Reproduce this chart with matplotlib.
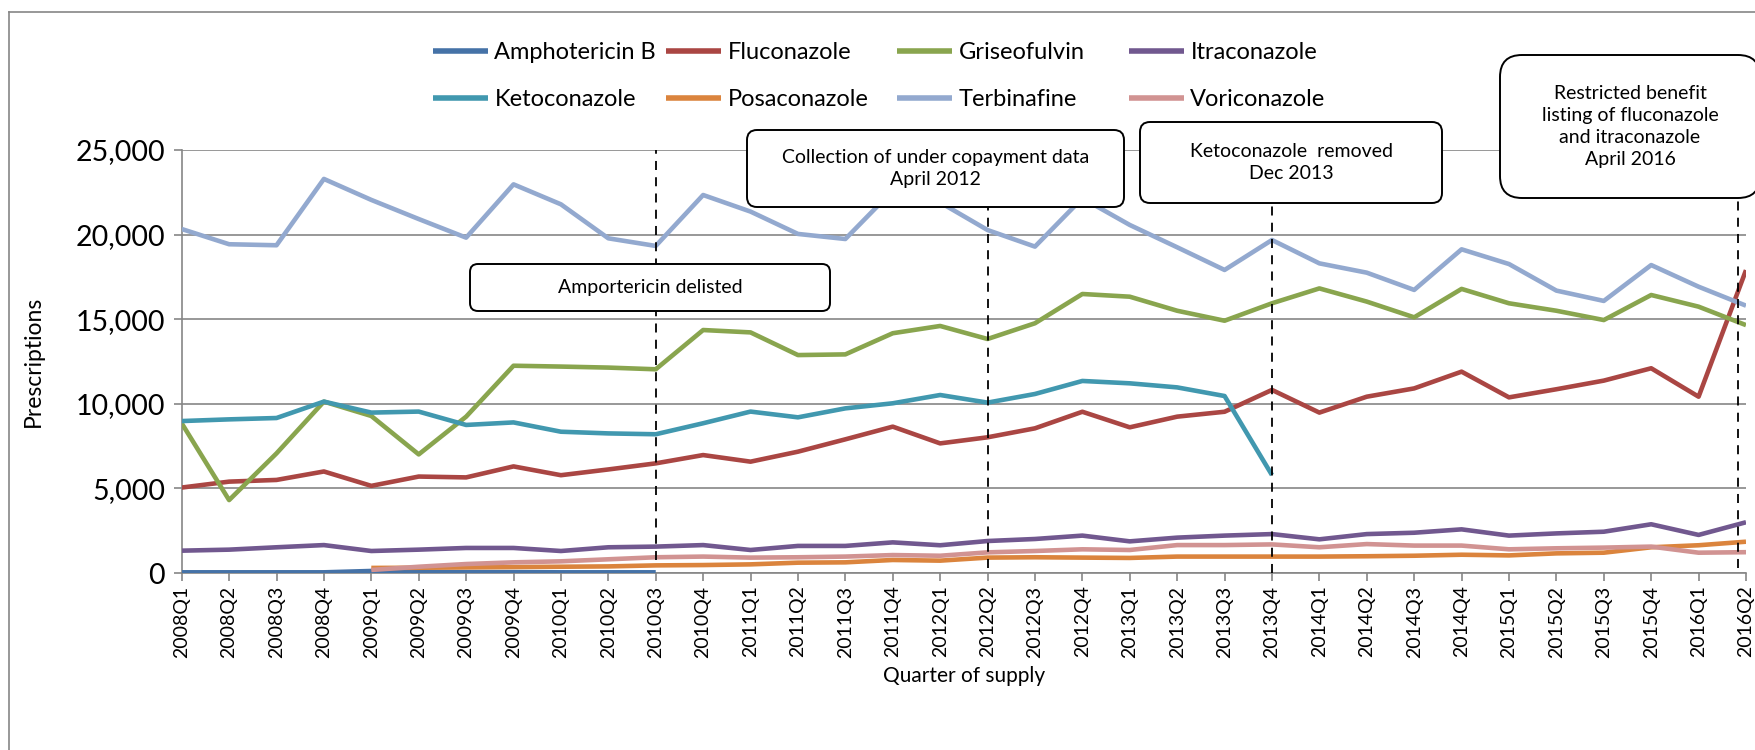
import matplotlib.pyplot as plt
import numpy as np
from matplotlib.patches import FancyBboxPatch
from matplotlib.lines import Line2D
from matplotlib.transforms import IdentityTransform

plt.rcParams['font.family'] = ['Lato', 'DejaVu Sans']

# --- dados ---
trimestres = [f"{ano}Q{q}" for ano in range(2008, 2017) for q in range(1, 5)][:34]

amphotericin = [40, 40, 40, 40, 120, 60, 50, 50, 40, 40, 40] + [None] * 23
fluconazole = [5050, 5400, 5500, 6000, 5150, 5700, 5650, 6300, 5780, 6120, 6480,
               6970, 6580, 7170, 7900, 8650, 7660, 8020, 8550, 9530, 8610, 9240,
               9530, 10820, 9480, 10420, 10910, 11900, 10380, 10860, 11370, 12100, 10420, 17900]
griseofulvin = [8850, 4310, 7070, 10130, 9280, 7010, 9240, 12250, 12200, 12140, 12040,
                14360, 14220, 12880, 12920, 14170, 14600, 13830, 14760, 16490, 16330, 15500,
                14910, 15940, 16820, 16040, 15110, 16790, 15940, 15500, 14950, 16430, 15740, 14650]
itraconazole = [1320, 1380, 1520, 1650, 1300, 1380, 1480, 1480, 1300, 1520, 1560,
                1650, 1360, 1600, 1600, 1810, 1640, 1890, 2010, 2210, 1870, 2090,
                2210, 2300, 1990, 2300, 2380, 2580, 2210, 2340, 2440, 2880, 2250, 3000]
ketoconazole = [8980, 9080, 9160, 10130, 9480, 9540, 8750, 8900, 8350, 8250, 8200,
                8850, 9540, 9200, 9730, 10030, 10520, 10070, 10580, 11350, 11210, 10970,
                10460, 5790] + [None] * 10
posaconazole = [None] * 4 + [300, 310, 330, 350, 370, 390, 450,
                470, 510, 610, 630, 770, 730, 910, 930, 910, 890, 970,
                970, 970, 970, 990, 1020, 1080, 1040, 1160, 1200, 1520, 1640, 1850]
terbinafine = [20330, 19430, 19370, 23290, 22050, 20920, 19820, 22970, 21790, 19780, 19330,
               22340, 21360, 20040, 19740, 22600, 21900, 20270, 19290, 22150, 20570, 19250,
               17910, 19680, 18300, 17750, 16730, 19130, 18260, 16690, 16080, 18200, 16920, 15800]
voriconazole = [None] * 4 + [180, 370, 530, 630, 690, 810, 930,
                970, 910, 930, 970, 1060, 1020, 1220, 1300, 1400, 1360, 1650,
                1650, 1690, 1520, 1710, 1620, 1620, 1400, 1460, 1500, 1560, 1200, 1230]

nomes = ['Amphotericin B', 'Fluconazole', 'Griseofulvin', 'Itraconazole',
         'Ketoconazole', 'Posaconazole', 'Terbinafine', 'Voriconazole']
series = [amphotericin, fluconazole, griseofulvin, itraconazole,
          ketoconazole, posaconazole, terbinafine, voriconazole]
cores = ['#4572A7', '#AA4643', '#89A54E', '#71588F',
         '#4198AF', '#DB843D', '#93A9CF', '#D19392']

# eventos: posição no eixo x (índice do trimestre), faixa vertical do tracejado
eventos_x = [10, 17, 23, 32.83]
eventos_y = [(768, 25000), (295, 21630), (0, 21870), (295, 22160)]

# --- figura ---
fig = plt.figure(figsize=(17.55, 7.5), dpi=100)
ax = fig.add_axes([181.7 / 1755, 1 - 573 / 750, (1746 - 181.7) / 1755, 423 / 750])

x = np.arange(len(trimestres))
linhas = []
for nome, valores, cor in zip(nomes, series, cores):
    y = np.array(valores, dtype=float)
    ln, = ax.plot(x, y, color=cor, linewidth=3.3, label=nome,
                  solid_joinstyle='round', solid_capstyle='butt', zorder=3)
    linhas.append(ln)

for ex, (y0, y1) in zip(eventos_x, eventos_y):
    ax.plot([ex, ex], [y0, y1], color='black', linewidth=1.3,
            dashes=(5, 4), zorder=4, clip_on=False)

ax.set_xlim(0, 33)
ax.set_ylim(0, 25000)
ax.set_yticks(np.arange(0, 25001, 5000))
ax.set_yticklabels([f"{v:,}" for v in range(0, 25001, 5000)], fontsize=20.5)
ax.set_xticks(x)
ax.set_xticklabels(trimestres, rotation=90, fontsize=14)
ax.grid(axis='y', color='#868686', linewidth=1.2, zorder=0)
ax.set_axisbelow(True)
for lado in ['top', 'right']:
    ax.spines[lado].set_visible(False)
for lado in ['left', 'bottom']:
    ax.spines[lado].set_color('#868686')
    ax.spines[lado].set_linewidth(1.2)
ax.tick_params(axis='both', colors='#868686', length=6, width=1.2, labelcolor='black')
ax.tick_params(axis='y', pad=6)
ax.tick_params(axis='x', pad=3)

ax.set_ylabel('Prescriptions', fontsize=16.5)
ax.yaxis.set_label_coords(-0.088, 0.5)
ax.set_xlabel('Quarter of supply', fontsize=15)
ax.xaxis.label.set_va('center')
ax.xaxis.set_label_coords(0.5, -0.243)

# --- legenda: uma coluna por legenda, larguras iguais como no original ---
colunas_x = [433, 666, 897, 1129]
for c, xc in enumerate(colunas_x):
    idx = [c, c + 4]
    leg = fig.legend([linhas[i] for i in idx], [nomes[i] for i in idx],
                     loc='center left', bbox_to_anchor=(xc / 1755, 1 - 76 / 750),
                     frameon=False, fontsize=17, handlelength=2.35, handletextpad=0.25,
                     labelspacing=1.1, borderpad=0, borderaxespad=0)
    for h in leg.legend_handles:
        h.set_linewidth(4)

# --- caixas de anotação (pixels, origem em baixo) ---
ident = IdentityTransform()
caixas = [
    (470, 264, 830, 311, 'Amportericin delisted', 8),
    (747, 130, 1124, 207, 'Collection of under copayment data\nApril 2012', 10),
    (1140, 122, 1442, 203, 'Ketoconazole  removed\nDec 2013', 10),
    (1500, 55, 1760, 198, 'Restricted benefit\nlisting of fluconazole\nand itraconazole\nApril 2016', 22),
]
for x0, y0, x1, y1, texto, r in caixas:
    caixa = FancyBboxPatch((x0, 750 - y1), x1 - x0, y1 - y0,
                           boxstyle=f"round,pad=0,rounding_size={r}",
                           transform=ident, facecolor='white', edgecolor='black',
                           linewidth=1.4, zorder=10)
    fig.add_artist(caixa)
    fig.text((x0 + x1) / 2 / 1755, 1 - (y0 + y1) / 2 / 750, texto,
             ha='center', va='center', fontsize=14, linespacing=1.35, zorder=11)

# moldura externa
fig.add_artist(Line2D([8.5, 8.5], [0, 738], transform=ident, color='#868686', linewidth=1.2))
fig.add_artist(Line2D([8.5, 1755], [738, 738], transform=ident, color='#868686', linewidth=1.2))

fig.savefig('out.png', dpi=100)
